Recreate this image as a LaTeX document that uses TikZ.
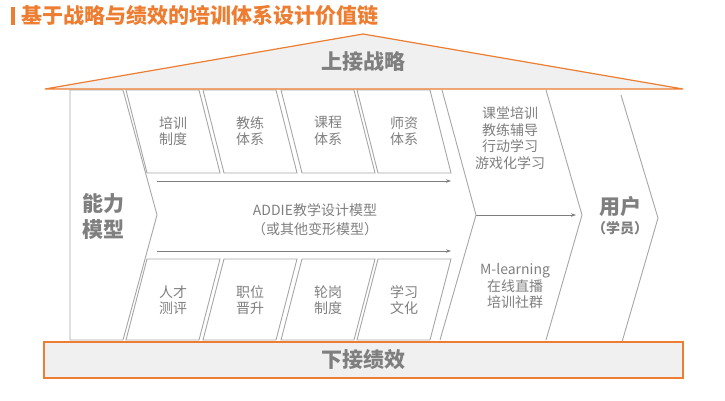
\documentclass[tikz,border=0pt]{standalone}
\usepackage{fontspec}
\setmainfont{Noto Sans CJK SC}
\usetikzlibrary{arrows.meta}
\definecolor{orangeA}{HTML}{ED7D31}
\definecolor{lineG}{HTML}{A6A6A6}
\definecolor{textG}{HTML}{7F7F7F}
\definecolor{fillG}{HTML}{F0F0F0}
\tikzset{
  gline/.style={draw=lineG, line width=0.9pt, line join=miter},
  obox/.style={draw=orangeA, fill=fillG, line width=1.2pt},
  txt/.style={text=textG, inner sep=0pt, align=center, font=\fontsize{14}{16.5}\selectfont},
  bigtxt/.style={text=textG, inner sep=0pt, align=center, font=\fontsize{21}{26}\selectfont\bfseries},
  flowarrow/.style={draw=textG, line width=0.8pt, -{Stealth[length=5pt,width=3.5pt]}},
}
\begin{document}
\begin{tikzpicture}[x=1pt,y=-1pt]
\useasboundingbox (0,0) rectangle (725,400);
% title
\fill[orangeA] (11,7) rectangle (15,25);
\node[anchor=west, inner sep=0pt, text=orangeA, font=\fontsize{21}{24}\selectfont\bfseries] (title) at (21,16) {基于战略与绩效的培训体系设计价值链};
% left chevron
\draw[gline] (70,90) -- (123,90) -- (157,215) -- (123,340) -- (70,340) -- cycle;
\node[bigtxt] (ability) at (103,216) {能力\\模型};
% top parallelograms
\foreach \tl/\name/\t in {126/ta/{培训\\制度},203/tb/{教练\\体系},281/tc/{课程\\体系},357/td/{师资\\体系}}{
  \draw[gline] (\tl,90) -- ({\tl+73},90) -- ({\tl+94},173) -- ({\tl+21},173) -- cycle;
  \node[txt] (\name) at ({\tl+47},131) {\t};
}
% bottom parallelograms
\foreach \tl/\name/\t in {126/ba/{人才\\测评},203/bb/{职位\\晋升},281/bc/{轮岗\\制度},357/bd/{学习\\文化}}{
  \draw[gline] ({\tl+21},259) -- ({\tl+94},259) -- ({\tl+73},340) -- (\tl,340) -- cycle;
  \node[txt] (\name) at ({\tl+47},300) {\t};
}
% arrows
\coordinate (ua) at (157,181); \coordinate (ub) at (451,181);
\coordinate (la) at (157,251); \coordinate (lb) at (451,251);
\coordinate (ma) at (476,215); \coordinate (mb) at (576,215);
\draw[flowarrow] (ua) -- (ub);
\draw[flowarrow] (la) -- (lb);
\draw[flowarrow] (ma) -- (mb);
\node[txt, font=\fontsize{14}{19}\selectfont] (addie) at (315,220) {ADDIE教学设计模型\\（或其他变形模型）};
% middle chevron
\draw[gline] (442,90) -- (ma) -- (440,340);
\draw[gline] (546,90) -- (582,215) -- (546,340);
\node[txt] (off) at (510,138) {课堂培训\\教练辅导\\行动学习\\游戏化学习};
\node[txt] (on) at (515,286) {M-learning\\在线直播\\培训社群};
% right chevron line
\draw[gline] (621,95) -- (658,218) -- (622,342);
\node[bigtxt] (user) at (620,207) {用户};
\node[bigtxt, font=\fontsize{14}{16}\selectfont\bfseries] (learner) at (620,228) {（学员）};
% roof
\draw[obox, line join=miter] (45,89) -- (363,34) -- (683,89) -- cycle;
\node[bigtxt] (strat) at (363,62) {上接战略};
% bottom bar
\draw[obox] (44,342) rectangle (683,378);
\node[bigtxt] (perf) at (363,360) {下接绩效};
\end{tikzpicture}
\end{document}
